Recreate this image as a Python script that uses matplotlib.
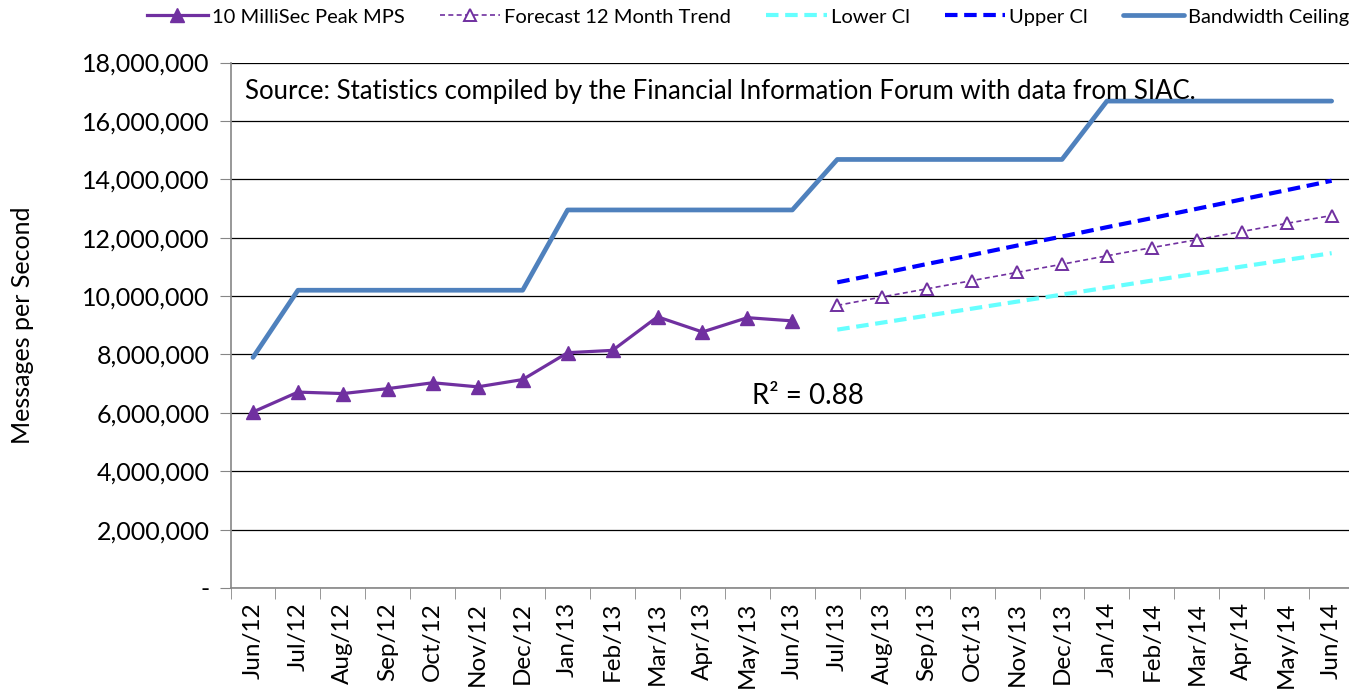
import matplotlib
matplotlib.use("Agg")
import matplotlib.pyplot as plt
from matplotlib.ticker import FuncFormatter, MultipleLocator

plt.rcParams["font.family"] = ["Lato", "DejaVu Sans"]

months = ["Jun/12", "Jul/12", "Aug/12", "Sep/12", "Oct/12", "Nov/12", "Dec/12",
          "Jan/13", "Feb/13", "Mar/13", "Apr/13", "May/13", "Jun/13",
          "Jul/13", "Aug/13", "Sep/13", "Oct/13", "Nov/13", "Dec/13",
          "Jan/14", "Feb/14", "Mar/14", "Apr/14", "May/14", "Jun/14"]

peak_mps = [6.03e6, 6.71e6, 6.66e6, 6.83e6, 7.03e6, 6.89e6, 7.14e6,
            8.06e6, 8.14e6, 9.29e6, 8.77e6, 9.26e6, 9.15e6]
forecast = [9.68e6, 9.97e6, 10.25e6, 10.53e6, 10.81e6, 11.09e6,
            11.38e6, 11.66e6, 11.93e6, 12.21e6, 12.49e6, 12.76e6]
lower_ci = [8.85e6, 9.09e6, 9.33e6, 9.57e6, 9.81e6, 10.05e6,
            10.29e6, 10.53e6, 10.77e6, 11.01e6, 11.24e6, 11.47e6]
upper_ci = [10.47e6, 10.78e6, 11.10e6, 11.41e6, 11.73e6, 12.04e6,
            12.36e6, 12.67e6, 12.99e6, 13.31e6, 13.63e6, 13.95e6]
ceiling = [7.9e6, 10.2e6, 10.2e6, 10.2e6, 10.2e6, 10.2e6, 10.2e6,
           12.95e6, 12.95e6, 12.95e6, 12.95e6, 12.95e6, 12.95e6,
           14.68e6, 14.68e6, 14.68e6, 14.68e6, 14.68e6, 14.68e6,
           16.68e6, 16.68e6, 16.68e6, 16.68e6, 16.68e6, 16.68e6]

PURPLE = "#7030A0"
x_all = list(range(len(months)))
x_hist = x_all[:len(peak_mps)]
x_fc = x_all[len(peak_mps):]

fig = plt.figure(figsize=(13.49, 6.95), dpi=100)
ax = fig.add_axes([0.1709, 0.154, 0.8329, 0.756])

ax.plot(x_all, ceiling, color="#4F81BD", lw=3.4, solid_capstyle="round", zorder=3,
        label="Bandwidth Ceiling")
ax.plot(x_hist, peak_mps, color=PURPLE, lw=2.3, marker="^", ms=10, zorder=4,
        label="10 MilliSec Peak MPS")
ax.plot(x_fc, forecast, color=PURPLE, lw=1.2, ls=(0, (3, 2)), marker="^", ms=8,
        mfc="white", mec=PURPLE, mew=1.4, zorder=4, label="Forecast 12 Month Trend")
ax.plot(x_fc, lower_ci, color="#66FFFF", lw=3.0, ls=(0, (3, 1.6)), zorder=3, label="Lower Cl")
ax.plot(x_fc, upper_ci, color="#0000FF", lw=3.0, ls=(0, (3, 1.6)), zorder=3, label="Upper Cl")

ax.set_xlim(-0.5, len(months) - 0.5)
ax.set_ylim(0, 18e6)
ax.yaxis.set_major_locator(MultipleLocator(2e6))
ax.yaxis.set_major_formatter(FuncFormatter(lambda v, p: "-" if v == 0 else f"{v:,.0f}"))
ax.set_xticks(x_all)
ax.set_xticklabels(months, rotation=90, fontsize=17.5)
ax.set_xticks([i - 0.5 for i in range(len(months) + 1)], minor=True)
ax.tick_params(axis="x", which="major", length=0, pad=10)
ax.tick_params(axis="x", which="minor", length=8, color="#868686", direction="out")
ax.tick_params(axis="y", length=8, color="#868686", labelsize=18, pad=7)
ax.grid(axis="y", color="#000000", lw=0.9, zorder=0)
ax.set_axisbelow(True)
for s in ["top", "right"]:
    ax.spines[s].set_visible(False)
ax.spines["left"].set_color("#868686")
ax.spines["bottom"].set_color("#868686")
ax.spines["left"].set_linewidth(1.2)
ax.spines["bottom"].set_linewidth(1.2)
ax.set_ylabel("Messages per Second", fontsize=18)
ax.yaxis.set_label_coords(-0.175, 0.5)

ax.text(0.0129, 17.0e6, "Source: Statistics compiled by the Financial Information Forum with data from SIAC.",
        transform=ax.get_yaxis_transform(), fontsize=18.5, va="center", ha="left")
ax.text(0.464, 0.365, "R² = 0.88", transform=ax.transAxes, fontsize=20, va="center", ha="left")

handles, labels = ax.get_legend_handles_labels()
order = [1, 2, 3, 4, 0]
fig.legend([handles[i] for i in order], [labels[i] for i in order], loc="center right",
           bbox_to_anchor=(1.0, 1 - 17 / 695), ncol=5, frameon=False, fontsize=14.5,
           handlelength=3.0, handletextpad=0.2, columnspacing=1.75,
           borderpad=0, borderaxespad=0)

fig.savefig("out.png", dpi=100, facecolor="white")
